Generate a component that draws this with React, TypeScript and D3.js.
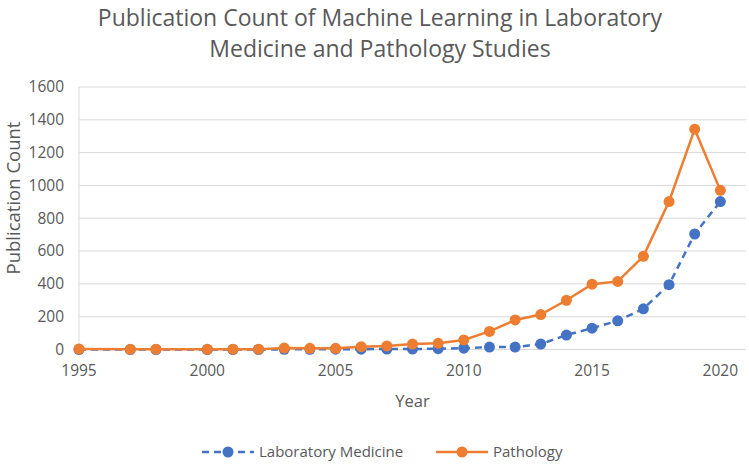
import React from "react";
import * as d3 from "d3";

const years = [1995, 1997, 1998, 2000, 2001, 2002, 2003, 2004, 2005, 2006, 2007, 2008, 2009, 2010, 2011, 2012, 2013, 2014, 2015, 2016, 2017, 2018, 2019, 2020];
const labMedicine = [0, 0, 0, 0, 0, 0, 1, 1, 2, 2, 3, 3, 5, 8, 15, 15, 33, 88, 130, 175, 248, 395, 704, 902];
const pathology = [3, 1, 2, 1, 2, 2, 9, 7, 7, 17, 22, 33, 38, 58, 110, 180, 213, 300, 398, 415, 568, 902, 1343, 970];
const yTicks = [0, 200, 400, 600, 800, 1000, 1200, 1400, 1600];
const xTicks = [1995, 2000, 2005, 2010, 2015, 2020];
const titleLines = ["Publication Count of Machine Learning in Laboratory", "Medicine and Pathology Studies"];
const seriesNames = ["Laboratory Medicine", "Pathology"];

const W = 749, H = 465;
const FONT = "'Open Sans', 'Liberation Sans', sans-serif";
const TXT = "#595959";
const BLUE = "#4472C4";
const ORANGE = "#ED7D31";

export default function App() {
  const x = d3.scaleLinear().domain([1995, 2021]).range([79, 746]);
  const y = d3.scaleLinear().domain([0, 1600]).range([349.5, 87]);
  const line = d3.line<[number, number]>().x(d => x(d[0])).y(d => y(d[1]));
  const blueData = years.map((yr, i) => [yr, labMedicine[i]] as [number, number]);
  const orangeData = years.map((yr, i) => [yr, pathology[i]] as [number, number]);

  return (
    <svg width={W} height={H} style={{ position: "absolute", left: 0, top: 0, background: "#fff" }} fontFamily={FONT}>
      {titleLines.map((t, i) => (
        <text key={i} x={380} y={26 + i * 31} textAnchor="middle" fontSize={23} fill={TXT}>{t}</text>
      ))}
      {yTicks.map(v => (
        <g key={v}>
          <line x1={x(1995)} x2={x(2021)} y1={y(v)} y2={y(v)} stroke="#d9d9d9" strokeWidth={1} />
          <text x={64} y={y(v)} dy="0.35em" textAnchor="end" fontSize={15.5} fill={TXT}>{v}</text>
        </g>
      ))}
      <line x1={x(1995)} x2={x(1995)} y1={y(0)} y2={y(1600)} stroke="#d9d9d9" strokeWidth={1} />
      {xTicks.map(v => (
        <text key={v} x={x(v)} y={376} textAnchor="middle" fontSize={15.5} fill={TXT}>{v}</text>
      ))}
      <text x={(x(1995) + x(2021)) / 2} y={407} textAnchor="middle" fontSize={16.5} fill={TXT}>Year</text>
      <text transform={`translate(20,198) rotate(-90)`} textAnchor="middle" fontSize={18.5} fill={TXT}>Publication Count</text>

      <path d={line(blueData) || ""} fill="none" stroke={BLUE} strokeWidth={2.5} strokeDasharray="7 5" />
      {blueData.map((d, i) => (
        <circle key={i} cx={x(d[0])} cy={y(d[1])} r={5.5} fill={BLUE} />
      ))}
      <path d={line(orangeData) || ""} fill="none" stroke={ORANGE} strokeWidth={2.5} />
      {orangeData.map((d, i) => (
        <circle key={i} cx={x(d[0])} cy={y(d[1])} r={5.5} fill={ORANGE} />
      ))}

      <g>
        <line x1={202} x2={254} y1={452} y2={452} stroke={BLUE} strokeWidth={2.5} strokeDasharray="7 5" />
        <circle cx={228} cy={452} r={5.5} fill={BLUE} />
        <text x={259} y={452} dy="0.35em" fontSize={15} fill={TXT}>{seriesNames[0]}</text>
        <line x1={436} x2={488} y1={452} y2={452} stroke={ORANGE} strokeWidth={2.5} />
        <circle cx={462} cy={452} r={5.5} fill={ORANGE} />
        <text x={493} y={452} dy="0.35em" fontSize={15} fill={TXT}>{seriesNames[1]}</text>
      </g>
    </svg>
  );
}
